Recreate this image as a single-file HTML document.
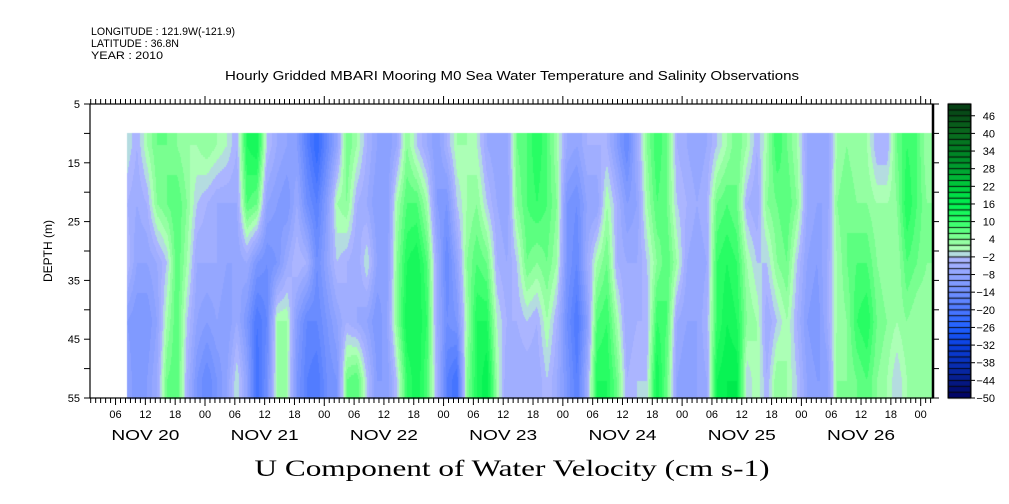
<!DOCTYPE html>
<html><head><meta charset="utf-8">
<style>
html,body{margin:0;padding:0;background:#fff;}
#wrap{position:relative;width:1009px;height:504px;overflow:hidden;font-family:"Liberation Sans",sans-serif;}
canvas,svg{position:absolute;left:0;top:0;}
</style></head>
<body>
<div id="wrap">
<canvas id="hm" width="1009" height="504"></canvas>
<svg id="ax" width="1009" height="504"></svg>
</div>
<script>
const startHour = -15.7;
const stepHours = 2.012;
const depths = [12, 22, 32, 42, 52];
const u12 = [0,-4,2,6,6,4,2,2,4,2,0,-4,12,14,-2,-6,-8,-10,-18,-24,-16,
 -8,6,2,-4,-8,-10,-6,4,-2,-6,-10,-4,2,2,0,-6,-8,-8,6,8,
 12,8,2,-6,-8,-4,-4,-4,-10,-16,-6,4,10,6,-4,-6,-8,-6,-2,2,6,
 2,-4,2,10,6,2,-6,-8,-8,2,4,2,2,-4,-4,6,10,8,2];
const u22 = [-4,-6,-4,4,6,8,4,-2,-4,-6,-6,-6,8,6,-8,-10,-12,-6,-14,-18,-10,
 2,4,-4,-6,-10,-10,2,8,8,2,-10,-12,-2,2,4,-2,-6,-8,4,8,
 10,8,4,-12,-14,-8,-8,2,-4,-10,-8,2,8,6,-2,-4,-6,-4,6,8,6,
 -4,-6,4,6,8,4,-6,-8,-8,4,6,4,4,2,2,4,12,8,4];
const u32 = [-2,-8,-8,-6,-2,8,2,-6,-6,-6,-8,-8,-6,-12,-14,-12,-6,-2,-4,-14,-8,
 -2,-4,-6,0,-8,-10,4,12,14,8,-6,-16,-8,4,8,6,-4,-6,-2,6,
 4,6,2,-12,-16,-6,2,6,-4,-6,-6,-2,4,8,2,-6,-8,-6,10,12,10,
 2,-2,-2,4,6,-2,-8,-10,-6,2,6,8,8,4,2,2,8,6,4];
const u42 = [-10,-12,-12,-8,2,8,-2,-8,-10,-8,-10,-6,-12,-20,-16,2,2,-10,-16,-16,-12,
 -8,-4,-6,-8,-12,-8,4,14,14,10,-6,-14,-12,2,12,12,0,-4,-4,-2,
 -4,2,-4,-14,-20,-10,8,10,2,-6,-4,-4,10,8,-6,-8,-8,-4,10,14,12,
 4,2,-6,-2,2,-4,-10,-12,-6,2,4,10,12,6,4,2,4,2,2];
const u52 = [-8,-12,-10,-6,6,8,-4,-12,-16,-12,-8,0,-8,-22,-14,2,2,-12,-18,-20,-14,
 -12,6,8,-2,-10,-10,-2,10,14,8,-4,-18,-22,4,12,16,2,-6,-6,-6,
 -6,-2,-6,-12,-18,-6,12,12,6,-4,-2,-2,14,6,-8,-10,-8,-6,14,16,16,
 -2,2,-4,4,2,-2,-8,-10,-10,4,4,6,8,4,2,-2,2,4,2];
const rows = [u12, u22, u32, u42, u52];
const cbarLabels = [46,40,34,28,22,16,10,4,-2,-8,-14,-20,-26,-32,-38,-44,-50];
const depthTicks = [5,15,25,35,45,55];
const hourLabels = ["06","12","18","00"];
const dayLabels = ["NOV 20","NOV 21","NOV 22","NOV 23","NOV 24","NOV 25","NOV 26"];

const X0=90, X1=933, Y0=104, Y1=398, H0x=205, pxPerHour=4.97;
const D0=5, D1=55;
const xOf = h => H0x + h*pxPerHour;
const hOf = x => (x-H0x)/pxPerHour;
const yOf = d => Y0 + (d-D0)*(Y1-Y0)/(D1-D0);
const dOf = y => D0 + (y-Y0)*(D1-D0)/(Y1-Y0);

const stops = [[-50,[0,0,96]],[-44,[6,28,136]],[-38,[8,48,184]],[-32,[10,64,224]],[-26,[32,96,255]],
 [-20,[76,120,255]],[-14,[112,144,255]],[-8,[144,164,255]],[-2,[176,184,255]],
 [0,[184,255,192]],[4,[136,255,152]],[10,[48,255,104]],[16,[0,240,80]],[22,[0,204,60]],
 [28,[0,160,48]],[34,[0,128,36]],[40,[10,106,30]],[50,[6,60,20]]];
function colorOf(v){
  let lv=Math.floor(v/2)*2+1;
  if(lv<-49)lv=-49; if(lv>49)lv=49;
  for(let i=0;i<stops.length-1;i++){
    const a=stops[i],b=stops[i+1];
    if(lv>=a[0]&&lv<=b[0]){const t=(lv-a[0])/(b[0]-a[0]);
      return 'rgb('+a[1].map((c,j)=>Math.round(c+(b[1][j]-c)*t)).join(',')+')';}
  }
  return '#000';
}
function valAt(h,d){
  const n=rows[0].length;
  let fi=(h-startHour)/stepHours; fi=Math.max(0,Math.min(n-1,fi));
  const i0=Math.floor(fi), i1=Math.min(n-1,i0+1), tx=fi-i0;
  let fd=(d-depths[0])/(depths[1]-depths[0]); fd=Math.max(0,Math.min(depths.length-1,fd));
  const j0=Math.floor(fd), j1=Math.min(depths.length-1,j0+1), ty=fd-j0;
  const r0=rows[j0][i0]*(1-tx)+rows[j0][i1]*tx;
  const r1=rows[j1][i0]*(1-tx)+rows[j1][i1]*tx;
  return r0*(1-ty)+r1*ty;
}
const ctx=document.getElementById('hm').getContext('2d');
const xs=Math.round(xOf(startHour)), ys=Math.round(yOf(10));
for(let x=xs;x<X1;x++){
  for(let y=ys;y<Y1;y+=2){
    ctx.fillStyle=colorOf(valAt(hOf(x+0.5),dOf(y+1)));
    ctx.fillRect(x,y,1,2);
  }
}
const CB0=948, CB1=971;
for(let k=0;k<50;k++){
  const lo=-50+2*k;
  const yA=Y1-(k+1)*(Y1-Y0)/50, yB=Y1-k*(Y1-Y0)/50;
  ctx.fillStyle=colorOf(lo+1);
  ctx.fillRect(CB0,yA,CB1-CB0,yB-yA);
  ctx.strokeStyle='#000';ctx.lineWidth=0.8;
  ctx.strokeRect(CB0+0.5,yA,CB1-CB0-1,yB-yA);
}
const svg=document.getElementById('ax');
const NS='http://www.w3.org/2000/svg';
function el(tag,attrs,parent){const e=document.createElementNS(NS,tag);for(const k in attrs)e.setAttribute(k,attrs[k]);(parent||svg).appendChild(e);return e;}
function txt(s,x,y,size,anchor,extra){const t=el('text',Object.assign({x:x,y:y,'font-size':size,'text-anchor':anchor||'start',fill:'#000'},extra||{}));t.textContent=s;return t;}

let t;
t=txt('LONGITUDE : 121.9W(-121.9)',91,35,11,'start',{textLength:144,lengthAdjust:'spacingAndGlyphs'});


t=txt('LATITUDE : 36.8N',91,47,11,'start',{textLength:88,lengthAdjust:'spacingAndGlyphs'});


t=txt('YEAR : 2010',91,59,11,'start',{textLength:72,lengthAdjust:'spacingAndGlyphs'});


t=txt('Hourly Gridded MBARI Mooring M0 Sea Water Temperature and Salinity Observations',512,80,12.5,'middle',{textLength:574,lengthAdjust:'spacingAndGlyphs'});


t=txt('U Component of Water Velocity (cm s-1)',512,476,23,'middle',{'font-family':'"Liberation Serif",serif',textLength:515,lengthAdjust:'spacingAndGlyphs'});


t=txt('DEPTH (m)',0,0,12,'middle',{transform:'translate(52,251) rotate(-90)'});



let f=el('rect',{x:X0,y:Y0,width:X1-X0,height:Y1-Y0,fill:'none',stroke:'#000','stroke-width':1.2});


el('line',{x1:X1,y1:Y0,x2:X1,y2:Y1,stroke:'#000','stroke-width':2.5});
for(let d=D0;d<=D1;d+=5){
  const y=yOf(d);
  el('line',{x1:X0-6,y1:y,x2:X0,y2:y,stroke:'#000'});
  el('line',{x1:X1,y1:y,x2:X1+6,y2:y,stroke:'#000'});
}
depthTicks.forEach(d=>{
  const lab=txt(String(d),80,yOf(d)+4,11,'end');
  
  
});
for(let h=Math.ceil(hOf(X0));xOf(h)<=X1;h++){
  const x=xOf(h);
  const major=((h%24)+24)%24===0, six=((h%6)+6)%6===0;
  el('line',{x1:x,y1:Y1,x2:x,y2:Y1+(major?8:six?7:5),stroke:'#000'});
  el('line',{x1:x,y1:Y0,x2:x,y2:Y0-(major?8:5),stroke:'#000'});
  if(six){
    const lab=txt(hourLabels[(((h/6)%4)+4+3)%4],x,418,11,'middle');
    
    
  }
}
dayLabels.forEach((s,i)=>{
  const lab=txt(s,xOf(-12+24*i),440,15,'middle',{textLength:68,lengthAdjust:'spacingAndGlyphs'});
  
  
});
cbarLabels.forEach(v=>{
  const y=Y1-(v+50)*(Y1-Y0)/100;
  el('line',{x1:CB1,y1:y,x2:CB1+4,y2:y,stroke:'#000'});
  const lab=txt(String(v).replace('-','\u2212'),995,y+4,11,'end');
  
  
});
let cb=el('rect',{x:CB0,y:Y0,width:CB1-CB0,height:Y1-Y0,fill:'none',stroke:'#000','stroke-width':1});


</script>
</body></html>
